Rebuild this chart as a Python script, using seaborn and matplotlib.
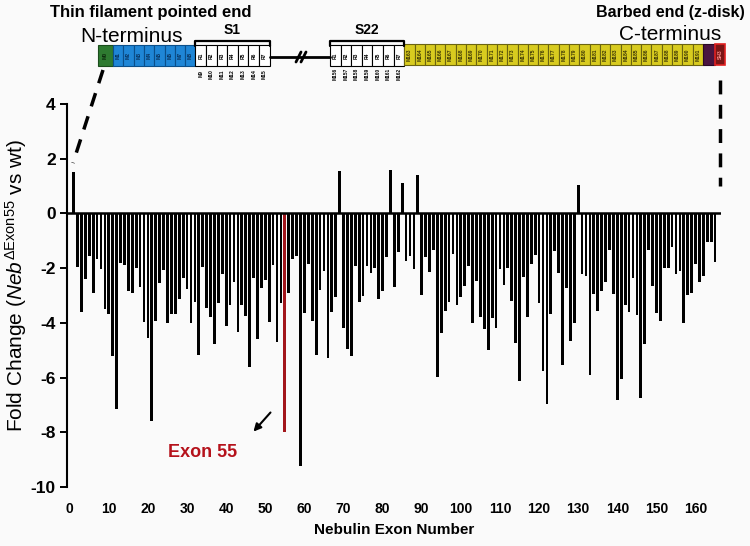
#################################################################################################
#   Required Header Files
#################################################################################################
import pandas as pd
import matplotlib
matplotlib.use("Agg")
import matplotlib.pyplot as plt
from matplotlib.patches import Rectangle
from matplotlib.lines import Line2D
import seaborn as sns

#################################################################################################
#   Chart Data
#################################################################################################
exon_numbers = list(range(1, 166))

fold_change = [
    1.50, -1.95, -3.59, -2.39, -1.55, -2.90, -1.65, -2.04, -3.48, -3.68,
    -5.20, -7.16, -1.82, -1.88, -2.83, -2.90, -2.00, -2.70, -3.95, -4.56,
    -7.59, -3.93, -2.56, -2.07, -3.99, -3.68, -3.66, -3.11, -2.37, -2.77,
    -4.00, -3.23, -5.18, -1.95, -3.44, -3.78, -4.76, -3.26, -2.22, -4.11,
    -3.35, -2.52, -4.32, -3.34, -3.76, -5.61, -2.37, -4.60, -2.71, -2.44,
    -3.95, -1.88, -4.70, -3.26, -8.00, -2.90, -1.67, -1.55, -9.23, -3.65,
    -1.83, -3.93, -5.18, -2.80, -2.10, -5.27, -3.59, -3.07, 1.54, -4.17,
    -4.96, -5.20, -1.91, -3.22, -3.01, -1.91, -2.16, -1.98, -3.13, -2.83,
    -1.61, 1.59, -2.68, -1.40, 1.11, -1.73, -1.55, -2.04, 1.41, -2.99,
    -1.61, -2.13, -1.34, -5.98, -4.38, -3.56, -3.23, -1.49, -3.34, -3.04,
    -2.65, -1.91, -4.01, -2.46, -3.78, -4.23, -4.99, -3.83, -4.17, -2.04,
    -2.62, -2.01, -3.20, -4.72, -6.12, -2.34, -3.78, -1.85, -1.51, -3.29,
    -5.76, -6.98, -3.68, -1.37, -2.16, -5.54, -2.71, -4.66, -3.99, 1.05,
    -2.22, -2.28, -5.90, -2.95, -3.56, -2.83, -2.52, -1.34, -2.93, -6.83,
    -6.05, -3.35, -3.62, -2.37, -3.71, -6.73, -4.78, -1.34, -2.65, -3.65,
    -3.93, -2.00, -1.98, -1.22, -2.22, -2.12, -3.99, -2.98, -2.91, -1.83,
    -2.52, -2.30, -1.06, -1.06, -1.77,
]

highlight_exon = 55
x_ticks = list(range(0, 161, 10))
y_ticks = [4, 2, 0, -2, -4, -6, -8, -10]

blue_labels = ["M1", "M2", "M3", "M4", "M5", "M6", "M7", "M8"]
repeat_labels = ["R1", "R2", "R3", "R4", "R5", "R6", "R7"]
s1_modules = ["M9", "M10", "M11", "M12", "M13", "M14", "M15"]
s22_modules = ["M156", "M157", "M158", "M159", "M160", "M161", "M162"]
yellow_labels = ["M%d" % n for n in range(163, 192)]


#################################################################################################
#   Helper : one row of module boxes for the schematic
#################################################################################################
def box_row(ax, x0, width, labels, face, edge, text_color, y0=45, h=21):
    for i, lab in enumerate(labels):
        ax.add_patch(Rectangle((x0 + i * width, y0), width, h, facecolor=face,
                               edgecolor=edge, lw=0.8))
        ax.text(x0 + (i + 0.5) * width, y0 + h / 2, lab, rotation=90, ha="center",
                va="center", fontsize=3.6, fontweight="bold", color=text_color)
    return x0 + len(labels) * width


def bracket(ax, x0, x1, y=41, drop=5):
    ax.plot([x0, x0, x1, x1], [y + drop, y, y, y + drop], color="black", lw=1.6,
            solid_joinstyle="round")


#################################################################################################
#   Entry Point Function
#################################################################################################
def main():
    sns.set_style("ticks")
    plt.rcParams["font.family"] = ["Liberation Sans", "DejaVu Sans"]
    plt.rcParams["mathtext.fontset"] = "custom"
    plt.rcParams["mathtext.rm"] = "Liberation Sans"
    plt.rcParams["mathtext.it"] = "Liberation Sans:italic"
    plt.rcParams["text.color"] = "black"
    plt.rcParams["axes.labelcolor"] = "black"
    plt.rcParams["xtick.color"] = "black"
    plt.rcParams["ytick.color"] = "black"

    bg = "#fafafa"
    fig = plt.figure(figsize=(7.5, 5.46), dpi=100, facecolor=bg)
    ax = fig.add_axes([0.0893, 0.108, 0.872, 0.7015])
    ax.set_facecolor(bg)

    #############################################################################################
    #   Bars
    #############################################################################################
    df = pd.DataFrame({"exon": exon_numbers, "fold": fold_change})
    df["group"] = ["hl" if e == highlight_exon else "other" for e in df["exon"]]

    sns.barplot(data=df, x="exon", y="fold", hue="group",
                palette={"other": "black", "hl": "#a3161c"},
                native_scale=True, dodge=False, width=0.7, saturation=1,
                errorbar=None, linewidth=0, legend=False, ax=ax)

    ax.axhline(0, color="black", lw=1.8, zorder=3)
    ax.set_xlim(-0.7, 166.5)
    ax.set_ylim(-10, 4)

    sns.despine(ax=ax, top=True, right=True, bottom=True)
    ax.spines["left"].set_linewidth(1.5)
    ax.spines["left"].set_color("black")

    ax.set_yticks(y_ticks)
    ax.set_yticklabels([str(v) for v in y_ticks], fontsize=12.5, fontweight="bold")
    ax.tick_params(axis="y", length=5, width=1.4, pad=3)
    ax.set_xticks(x_ticks)
    ax.set_xticklabels([str(v) for v in x_ticks], fontsize=10, fontweight="bold")
    ax.tick_params(axis="x", length=0, pad=11)

    ax.set_xlabel("Nebulin Exon Number", fontsize=11, fontweight="bold", labelpad=5)
    ax.set_ylabel(r"Fold Change ($\mathit{Neb}^{\Delta\mathrm{Exon55}}$ vs wt)",
                  fontsize=15)
    ax.yaxis.set_label_coords(-0.058, 0.525)

    ax.annotate("", xy=(46.5, -8.05), xytext=(51.8, -7.2),
                arrowprops=dict(arrowstyle="-|>", color="black", lw=1.5,
                                mutation_scale=11))
    ax.text(34, -8.75, "Exon 55", color="#b5121b", fontsize=13, fontweight="bold",
            ha="center", va="center")

    #############################################################################################
    #   Protein schematic (pixel coordinates overlay)
    #############################################################################################
    top = fig.add_axes([0, 0, 1, 1], facecolor="none")
    top.set_xlim(0, 750)
    top.set_ylim(546, 0)
    top.axis("off")

    top.add_patch(Rectangle((98, 45), 15, 21, facecolor="#2e7a30", edgecolor="#1b4d1c", lw=0.8))
    top.text(105.5, 55.5, "M0", rotation=90, ha="center", va="center", fontsize=3.6,
             fontweight="bold", color="#0d2a0d")
    x = box_row(top, 113, 10.3, blue_labels, "#1f86d6", "#0b4f8a", "#08305a")
    s1_start = x
    x = box_row(top, x, 10.6, repeat_labels, "white", "black", "black")
    s1_end = x
    for i, lab in enumerate(s1_modules):
        top.text(s1_start + (i + 0.5) * 10.6, 74, lab, rotation=90, ha="center",
                 va="center", fontsize=3.6, fontweight="bold")
    bracket(top, s1_start, s1_end)
    top.text((s1_start + s1_end) / 2, 30, "S1", fontsize=10, fontweight="bold",
             ha="center", va="center")

    top.plot([s1_end, 330], [57, 57], color="black", lw=2)
    top.plot([296, 301], [62, 52], color="black", lw=2)
    top.plot([301, 306], [62, 52], color="black", lw=2)

    x = box_row(top, 330, 10.6, repeat_labels, "white", "black", "black")
    s22_end = x
    for i, lab in enumerate(s22_modules):
        top.text(330 + (i + 0.5) * 10.6, 74, lab, rotation=90, ha="center",
                 va="center", fontsize=3.4, fontweight="bold")
    bracket(top, 330, s22_end)
    top.text((330 + s22_end) / 2, 30, "S22", fontsize=10, fontweight="bold",
             ha="center", va="center")

    x = box_row(top, s22_end, (703 - s22_end) / len(yellow_labels), yellow_labels,
                "#d8cb1f", "#6b6410", "#3a3505", y0=44)
    top.add_patch(Rectangle((703, 44), 12, 21, facecolor="#4a1540", edgecolor="#2a0a25", lw=0.8))
    top.add_patch(Rectangle((715, 44), 10, 21, facecolor="#7a1515", edgecolor="#e02020", lw=1.2))
    top.text(720, 54.5, "SH3", rotation=90, ha="center", va="center", fontsize=3.6,
             fontweight="bold", color="#ff9090")

    top.text(151, 13, "Thin filament pointed end", fontsize=12, fontweight="bold",
             ha="center", va="center")
    top.text(132, 36, "N-terminus", fontsize=15, ha="center", va="center")
    top.text(745, 13, "Barbed end (z-disk)", fontsize=11.5, fontweight="bold",
             ha="right", va="center")
    top.text(670, 34, "C-terminus", fontsize=15, ha="center", va="center")

    top.add_line(Line2D([103, 73], [70, 163], color="black", lw=2.5,
                        linestyle=(0, (4, 3))))
    top.add_line(Line2D([720, 720], [80, 186], color="black", lw=2.5,
                        linestyle=(0, (4, 3))))

    fig.savefig("out.png", dpi=100, facecolor=bg)
    print("Chart saved to out.png")


#################################################################################################
#   Starter
#################################################################################################
if __name__ == "__main__":
    main()
